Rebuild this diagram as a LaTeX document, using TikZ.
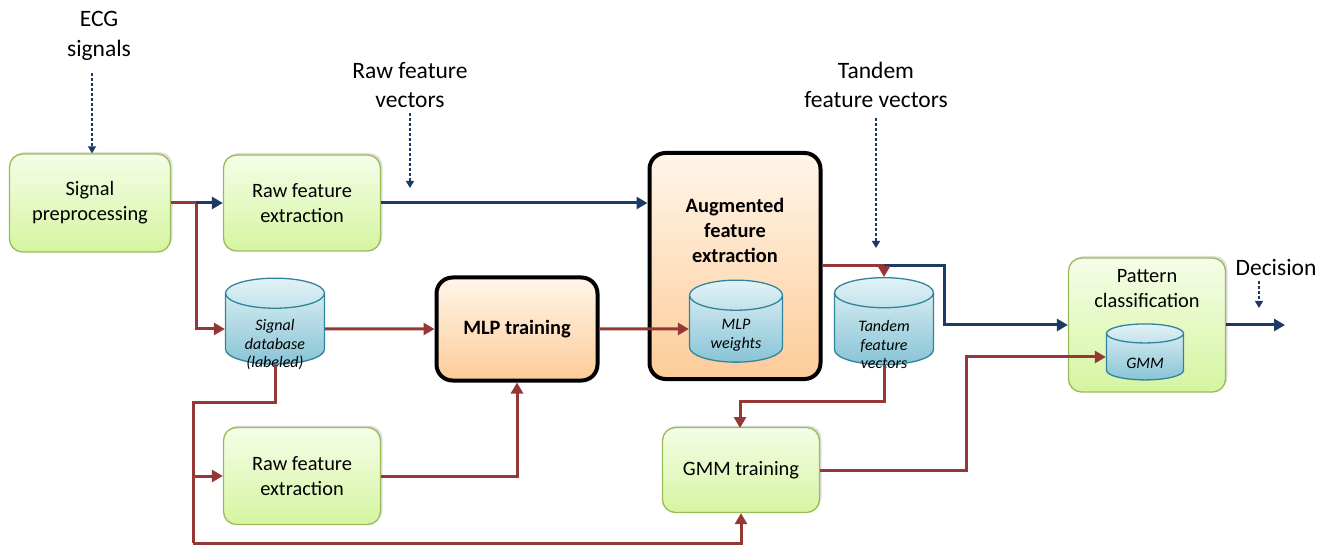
\documentclass[tikz,border=0pt]{standalone}
\usepackage{fontspec}
\setmainfont{Carlito}
\usetikzlibrary{shapes.geometric,arrows.meta,shadows}
\definecolor{cred}{HTML}{953735}
\definecolor{cblue}{HTML}{1B3A66}
\definecolor{gborder}{HTML}{9BBB59}
\definecolor{gtop}{HTML}{F5FDE8}
\definecolor{gbot}{HTML}{D5F5A0}
\definecolor{otop}{HTML}{FFF6EA}
\definecolor{obot}{HTML}{FDCB98}
\definecolor{ctop}{HTML}{E2F2F6}
\definecolor{cbot}{HTML}{88C4D6}
\definecolor{cborder}{HTML}{31849B}
\tikzset{
  greenbox/.style={draw=gborder, line width=1.3pt, rounded corners=13pt,
    top color=gtop, bottom color=gbot, align=center,
    font=\fontsize{20.4}{25}\selectfont,
    drop shadow={shadow xshift=2pt, shadow yshift=2pt, opacity=0.25}},
  orangebox/.style={draw=black, line width=4pt, rounded corners=16pt,
    top color=otop, bottom color=obot, align=center,
    font=\fontsize{20.4}{25}\selectfont\bfseries},
  cyl/.style={cylinder, shape border rotate=90, aspect=0.5, draw=cborder,
    line width=1.3pt, top color=ctop, bottom color=cbot, inner sep=0pt,
    align=center, font=\fontsize{16}{18.5}\selectfont\itshape},
  cyltext/.style={align=center, font=\fontsize{16}{18.5}\selectfont\itshape},
  redline/.style={draw=cred, line width=3pt},
  blueline/.style={draw=cblue, line width=3pt},
  tip/.style={-{Triangle[length=11pt,width=12pt]}},
  dashy/.style={draw=cblue, line width=1.2pt, densely dashed,
    -{Triangle[length=7pt,width=8pt]}},
  lbl/.style={align=center, font=\fontsize{23.5}{29.5}\selectfont}
}
\begin{document}
\begin{tikzpicture}[x=1pt,y=-1pt]
\useasboundingbox (0,0) rectangle (1328,545);
% boxes
\node[greenbox, minimum width=161pt, minimum height=98pt] (sp) at (90,203) {Signal\\preprocessing};
\node[greenbox, minimum width=157pt, minimum height=96pt] (rfe1) at (302,203) {Raw feature\\extraction};
\node[greenbox, minimum width=157pt, minimum height=97pt] (rfe2) at (302,476) {Raw feature\\extraction};
\node[greenbox, minimum width=157pt, minimum height=85pt] (gmmt) at (741,470) {GMM training};
\node[greenbox, minimum width=157pt, minimum height=134pt] (pc) at (1147,325) {};
\node[font=\fontsize{20.4}{25}\selectfont, align=center] (pctxt) at (1147,289) {Pattern\\classification};
\node[orangebox, minimum width=171pt, minimum height=226pt] (aug) at (735,266) {};
\node[font=\fontsize{20.4}{25}\selectfont\bfseries, align=center] (augtxt) at (735,230) {Augmented\\feature\\extraction};
\node[orangebox, minimum width=161pt, minimum height=103pt] (mlp) at (517,329) {MLP training};
% cylinders
\node[cyl, minimum width=99pt, minimum height=86pt] (db) at (275,329) {\phantom{database}};
\node[cyltext] (dbtxt) at (275,345) {Signal\\database\\(labeled)};
\node[cyl, minimum width=93pt, minimum height=82pt] (mlpw) at (736,329) {\phantom{database}};
\node[cyltext] (mlpwtxt) at (736,335) {MLP\\weights};
\node[cyl, minimum width=99pt, minimum height=87pt] (tfv) at (884,329) {\phantom{database}};
\node[cyltext] (tfvtxt) at (884,345) {Tandem\\feature\\vectors};
\node[cyl, minimum width=77pt, minimum height=56pt] (gmm) at (1145,357) {\phantom{datab}};
\node[cyltext] (gmmtxt) at (1145,363) {GMM};
% labels
\node[lbl] (ecg) at (99,36) {ECG\\signals};
\node[lbl] (rfv) at (410,85) {Raw feature\\vectors};
\node[lbl] (tandem) at (876,85) {Tandem\\feature vectors};
\node[lbl, anchor=base] (dec) at (1276,276) {Decision};
% coordinates
\coordinate (j1) at (196,203);
\coordinate (j2) at (884,266);
\coordinate (j3) at (193,476);
\coordinate (rfvend) at (410,188);
\coordinate (decend) at (1285,325);
% dashed inputs
\draw[dashy] (92,73) -- (sp.north -| 92,0);
\draw[dashy] (410,113) -- (rfvend);
\draw[dashy] (876,118) -- (876,248);
\draw[dashy] (1259,281) -- (1259,308);
% red connectors
\draw[redline] (sp.east) -- (j1);
\draw[redline, tip] (j1) |- (db.west);
\draw[redline, tip] (db.east) -- (mlp.west);
\draw[redline, tip] (mlp.east) -- (mlpw.west);
\draw[redline] (db.south) -- (275,402) -- (193,402) -- (193,543);
\draw[redline, tip] (193,543) -| (gmmt.south);
\draw[redline, tip] (j3) -- (rfe2.west);
\draw[redline, tip] (rfe2.east) -| (mlp.south);
\draw[redline, tip] (tfv.south) -- (884,401) -| (740,428);
\draw[redline, tip] (gmmt.east) -- (966,470) |- (gmm.west);
\draw[redline] (aug.east) -- (j2);
% blue connectors
\draw[blueline, tip] (j1) -- (rfe1.west);
\draw[blueline, tip] (rfe1.east) -- (rfe1.east -| aug.west);
\draw[blueline, tip] (j2) -- (944,266) |- (pc.west);
\draw[blueline, tip] (pc.east) -- (decend);
\draw[redline, tip] (j2) -- (tfv.north);
\end{tikzpicture}
\end{document}
